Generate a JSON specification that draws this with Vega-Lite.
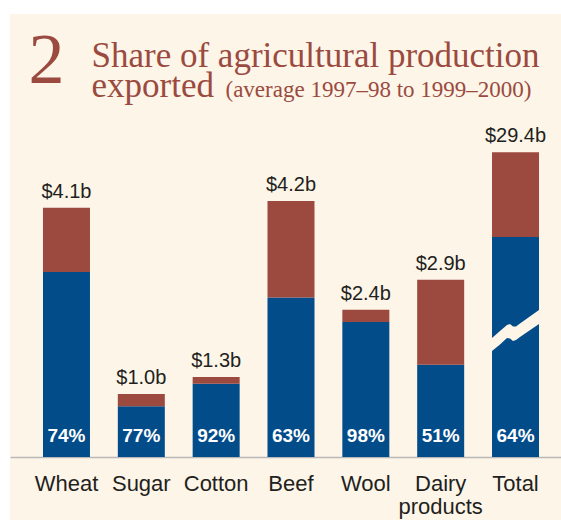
{
  "$schema": "https://vega.github.io/schema/vega-lite/v6.json",
  "autosize": "none",
  "width": 551,
  "height": 506,
  "padding": {"left": 10, "top": 14, "right": 0, "bottom": 0},
  "background": "#ffffff",
  "config": {"view": {"fill": "#fdf5e8", "stroke": null}},
  "datasets": {
    "bars": [
      {"cat": "Wheat", "part": "Exported", "ord": 1, "v": 3.03},
      {"cat": "Wheat", "part": "Not exported", "ord": 2, "v": 1.05},
      {"cat": "Sugar", "part": "Exported", "ord": 1, "v": 0.83},
      {"cat": "Sugar", "part": "Not exported", "ord": 2, "v": 0.2},
      {"cat": "Cotton", "part": "Exported", "ord": 1, "v": 1.2},
      {"cat": "Cotton", "part": "Not exported", "ord": 2, "v": 0.11},
      {"cat": "Beef", "part": "Exported", "ord": 1, "v": 2.61},
      {"cat": "Beef", "part": "Not exported", "ord": 2, "v": 1.58},
      {"cat": "Wool", "part": "Exported", "ord": 1, "v": 2.21},
      {"cat": "Wool", "part": "Not exported", "ord": 2, "v": 0.2},
      {"cat": "Dairy products", "part": "Exported", "ord": 1, "v": 1.51},
      {"cat": "Dairy products", "part": "Not exported", "ord": 2, "v": 1.39},
      {"cat": "Total", "part": "Exported", "ord": 1, "v": 3.6},
      {"cat": "Total", "part": "Not exported", "ord": 2, "v": 1.39}
    ],
    "labels": [
      {"cat": "Wheat", "total": 4.08, "dollar": "$4.1b", "pct": "74%"},
      {"cat": "Sugar", "total": 1.03, "dollar": "$1.0b", "pct": "77%"},
      {"cat": "Cotton", "total": 1.31, "dollar": "$1.3b", "pct": "92%"},
      {"cat": "Beef", "total": 4.19, "dollar": "$4.2b", "pct": "63%"},
      {"cat": "Wool", "total": 2.41, "dollar": "$2.4b", "pct": "98%"},
      {"cat": "Dairy products", "total": 2.9, "dollar": "$2.9b", "pct": "51%"},
      {"cat": "Total", "total": 4.99, "dollar": "$29.4b", "pct": "64%"}
    ],
    "brk": [
      {"bx": 6.4404, "up": 1.948, "lo": 1.735},
      {"bx": 6.5473, "up": 2.063, "lo": 1.842},
      {"bx": 6.6408, "up": 2.161, "lo": 1.948},
      {"bx": 6.6809, "up": 2.177, "lo": 1.94},
      {"bx": 6.721, "up": 2.136, "lo": 1.899},
      {"bx": 6.7611, "up": 2.136, "lo": 1.915},
      {"bx": 6.8145, "up": 2.185, "lo": 1.964},
      {"bx": 7.0684, "up": 2.406, "lo": 2.177}
    ]
  },
  "layer": [
    {
      "encoding": {
        "x": {
          "field": "cat",
          "type": "nominal",
          "sort": ["Wheat", "Sugar", "Cotton", "Beef", "Wool", "Dairy products", "Total"],
          "scale": {"paddingInner": 0.372, "paddingOuter": 0.3672, "align": 0.6, "round": false},
          "axis": {
            "orient": "bottom",
            "offset": -63,
            "title": null,
            "domainColor": "#b9b9b9",
            "domainWidth": 1.5,
            "ticks": false,
            "labelAngle": 0,
            "labelFont": "Liberation Sans",
            "labelFontSize": 22,
            "labelColor": "#231f20",
            "labelBaseline": "alphabetic",
            "labelPadding": 33,
            "labelLineHeight": 23,
            "labelOverlap": false,
            "labelBound": false,
            "labelFlush": false,
            "labelExpr": "split(datum.label, ' ')"
          }
        }
      },
      "layer": [
        {
          "data": {"name": "bars"},
          "mark": {"type": "bar"},
          "encoding": {
            "y": {
              "field": "v",
              "type": "quantitative",
              "stack": "zero",
              "scale": {"domain": [-1.0313, 7.2516], "nice": false, "zero": false},
              "axis": {
                "orient": "left",
                "domain": false,
                "ticks": false,
                "labels": false,
                "grid": false,
                "title": "2",
                "titleAngle": 0,
                "titleX": 18,
                "titleY": 68,
                "titleAlign": "left",
                "titleBaseline": "alphabetic",
                "titleFont": "Liberation Serif",
                "titleFontSize": 72,
                "titleFontWeight": "normal",
                "titleColor": "#9b4a3f"
              }
            },
            "color": {
              "field": "part",
              "type": "nominal",
              "scale": {"domain": ["Exported", "Not exported"], "range": ["#034c8a", "#9c4940"]},
              "legend": null
            },
            "order": {"field": "ord", "type": "quantitative"}
          }
        },
        {
          "data": {"name": "labels"},
          "mark": {"type": "text", "font": "Liberation Sans", "fontSize": 20, "color": "#231f20", "baseline": "alphabetic", "dy": -10},
          "encoding": {
            "y": {"field": "total", "type": "quantitative"},
            "text": {"field": "dollar"}
          }
        },
        {
          "data": {"name": "labels"},
          "mark": {"type": "text", "font": "Liberation Sans", "fontSize": 19, "fontWeight": "bold", "color": "#ffffff", "baseline": "alphabetic", "dy": -15},
          "encoding": {
            "y": {"datum": 0, "type": "quantitative"},
            "text": {"field": "pct"}
          }
        }
      ]
    },
    {
      "data": {"name": "brk"},
      "mark": {"type": "area", "color": "#fdf5e8", "opacity": 1},
      "encoding": {
        "x": {
          "field": "bx",
          "type": "quantitative",
          "scale": {"domain": [0, 7.3624], "nice": false, "zero": false},
          "axis": {
            "orient": "top",
            "domain": false,
            "ticks": false,
            "labels": false,
            "grid": false,
            "title": ["Share of agricultural production", "exported"],
            "titleX": 81,
            "titleY": 52,
            "titleAlign": "left",
            "titleBaseline": "alphabetic",
            "titleAnchor": null,
            "titleLineHeight": 30,
            "titleFont": "Liberation Serif",
            "titleFontSize": 35,
            "titleFontWeight": "normal",
            "titleColor": "#9b4a3f"
          }
        },
        "y": {
          "field": "up",
          "type": "quantitative",
          "stack": null,
          "scale": {"domain": [-1.0313, 7.2516], "nice": false, "zero": false},
          "axis": {
            "orient": "right",
            "domain": false,
            "ticks": false,
            "labels": false,
            "grid": false,
            "title": "(average 1997–98 to 1999–2000)",
            "titleAngle": 0,
            "titleX": -336,
            "titleY": 82,
            "titleAlign": "left",
            "titleBaseline": "alphabetic",
            "titleFont": "Liberation Serif",
            "titleFontSize": 23,
            "titleFontWeight": "normal",
            "titleColor": "#9b4a3f"
          }
        },
        "y2": {"field": "lo"}
      }
    }
  ],
  "resolve": {"scale": {"x": "independent", "y": "independent"}}
}
